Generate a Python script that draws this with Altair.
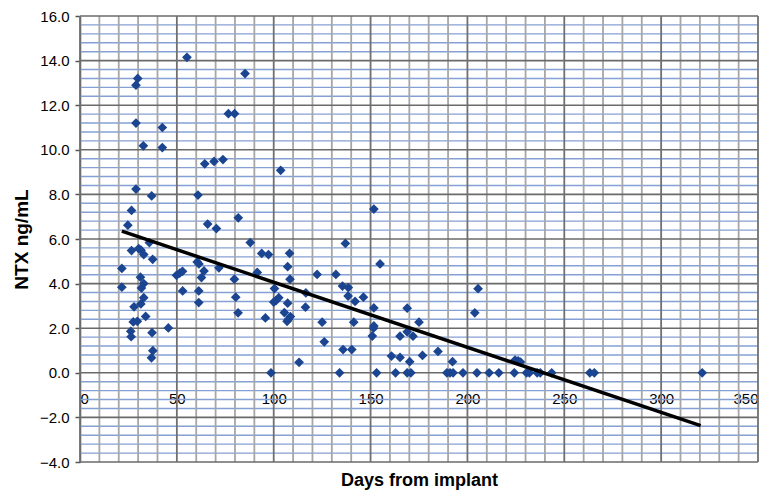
import altair as alt
import pandas as pd
import numpy as np

# Days from implant (x) and NTX ng/mL (y)
days = [21.6, 21.6, 24.7, 26.6, 26.2, 26.4, 27.5, 27.9, 28.9, 28.9, 28.9, 29.8, 29.6,
        26.6, 30.3, 31.5, 32.9, 31.2, 32.9, 31.7, 32.9, 31.4, 33.9, 32.7, 35.8, 37.0,
        37.5, 37.2, 37.6, 36.9, 42.5, 42.5, 45.6, 49.8, 51.5, 52.9, 53.0, 55.2, 60.5,
        61.4, 60.9, 64.0, 62.7, 61.3, 61.3, 64.4, 65.9, 69.2, 70.4, 71.7, 73.8, 76.6,
        79.8, 79.7, 80.4, 81.6, 81.7, 85.2, 87.9, 91.5, 93.8, 95.7, 97.3, 98.6, 100.4,
        100.0, 101.2, 102.6, 103.6, 105.5, 107.2, 107.2, 108.2, 108.4, 108.6, 107.6,
        106.9, 113.1, 116.6, 116.4, 122.4, 125.0, 126.1, 132.1, 134.0, 135.8, 135.5,
        137.0, 138.5, 138.4, 140.3, 141.3, 142.0, 146.3, 150.9, 151.5, 151.7, 151.7,
        151.7, 153.1, 154.9, 160.8, 162.9, 165.2, 165.2, 168.9, 168.9, 168.9, 170.8,
        170.2, 171.9, 175.0, 176.8, 184.8, 189.4, 191.0, 192.6, 192.3, 197.7, 203.8,
        205.5, 204.9, 211.2, 216.2, 224.2, 224.6, 226.2, 227.4, 230.5, 232.0, 236.0,
        237.6, 243.5, 263.2, 265.5, 321.2]
ntx = [4.68, 3.84, 6.62, 7.28, 1.86, 1.62, 2.28, 2.96, 8.24, 11.2, 12.9, 13.2, 2.31,
       5.48, 5.57, 5.5, 5.3, 4.29, 4.0, 3.8, 3.37, 3.09, 2.53, 10.18, 5.84, 7.93,
       5.09, 1.8, 0.99, 0.67, 11.0, 10.1, 2.01, 4.37, 4.47, 4.55, 3.67, 14.15, 4.97,
       4.88, 7.97, 4.57, 4.27, 3.67, 3.15, 9.37, 6.67, 9.48, 6.47, 4.71, 9.56, 11.62,
       11.62, 4.2, 3.39, 2.69, 6.95, 13.42, 5.84, 4.5, 5.35, 2.46, 5.3, 0.0, 3.78,
       3.17, 3.24, 3.37, 9.08, 2.7, 4.76, 3.12, 5.36, 4.2, 2.52, 2.4,
       2.31, 0.47, 3.58, 2.94, 4.41, 2.27, 1.39, 4.41, 0.0, 1.04, 3.89,
       5.8, 3.82, 3.44, 1.04, 2.27, 3.2, 3.39, 1.65, 2.0, 2.1, 2.91,
       7.34, 0.0, 4.88, 0.75, 0.0, 0.69, 1.64, 2.9, 1.84, 0.0, 0.0,
       0.5, 1.64, 2.27, 0.78, 0.96, 0.0, 0.0, 0.0, 0.5, 0.0, 2.69,
       3.77, 0.0, 0.0, 0.0, 0.0, 0.57, 0.54, 0.48, 0.0, 0.0, 0.0,
       0.0, 0.0, 0.0, 0.0, 0.0]

# Linear trend line end points
trend_x = [21.6, 320.4]
trend_y = [6.35, -2.37]

# Axis ticks / grid positions
x_major = [0, 50, 100, 150, 200, 250, 300, 350]
x_minor = [v for v in range(0, 351, 10) if v % 50 != 0]
y_major = [-4, -2, 0, 2, 4, 6, 8, 10, 12, 14, 16]
y_minor = [round(v, 1) for v in np.arange(-4, 16.01, 0.4) if abs(v / 2 - round(v / 2)) > 1e-6]

pts = pd.DataFrame({"day": days, "ntx": ntx})
trend = pd.DataFrame({"day": trend_x, "ntx": trend_y})

xs = alt.Scale(domain=[0, 350], nice=False, zero=False)
ys = alt.Scale(domain=[-4, 16], nice=False, zero=False)

x_axis = alt.Axis(values=x_major, format="d", grid=False, domain=False, ticks=False,
                  offset=-89.3, labelFontSize=15, labelColor="black", labelPadding=19,
                  title="Days from implant", titleFontSize=18, titleFontWeight="bold",
                  titleColor="black", titleY=108, titleBaseline="middle")
y_axis = alt.Axis(values=y_major, format=".1f", grid=False, domain=True, domainColor="#555555",
                  domainWidth=1.5, ticks=True, tickSize=5, tickColor="#555555", tickWidth=1.5,
                  labelFontSize=15, labelColor="black", labelPadding=6,
                  title="NTX ng/mL", titleFontSize=19, titleFontWeight="bold",
                  titleColor="black", titlePadding=8)

X = lambda f: alt.X(f, scale=xs, axis=x_axis)
Y = lambda f: alt.Y(f, scale=ys, axis=y_axis)

hminor = alt.Chart(pd.DataFrame({"v": y_minor})).mark_rule(color="#84A0D4", strokeWidth=1.4).encode(
    y=Y("v:Q"))
vminor = alt.Chart(pd.DataFrame({"v": x_minor})).mark_rule(color="#A6A6A6", strokeWidth=1.8).encode(
    x=X("v:Q"))
hmajor = alt.Chart(pd.DataFrame({"v": y_major})).mark_rule(color="#6A6A6A", strokeWidth=1.6).encode(
    y=Y("v:Q"))
vmajor = alt.Chart(pd.DataFrame({"v": x_major})).mark_rule(color="#707070", strokeWidth=1.8).encode(
    x=X("v:Q"))

points = alt.Chart(pts).mark_point(shape="diamond", filled=True, size=95, color="#1B4591",
                                   opacity=1).encode(
    x=X("day:Q"),
    y=Y("ntx:Q"))

line = alt.Chart(trend).mark_line(color="black", strokeWidth=3.5).encode(
    x=X("day:Q"),
    y=Y("ntx:Q"))

chart = alt.layer(hminor, vminor, hmajor, vmajor, points, line).properties(
    width=678, height=446,
    autosize=alt.AutoSizeParams(type="none"),
    padding={"left": 72, "top": 8, "right": 14, "bottom": 30},
).configure(font="Liberation Sans").configure_view(stroke=None)

chart.save("out.html", embed_options={"renderer": "svg", "actions": False})
